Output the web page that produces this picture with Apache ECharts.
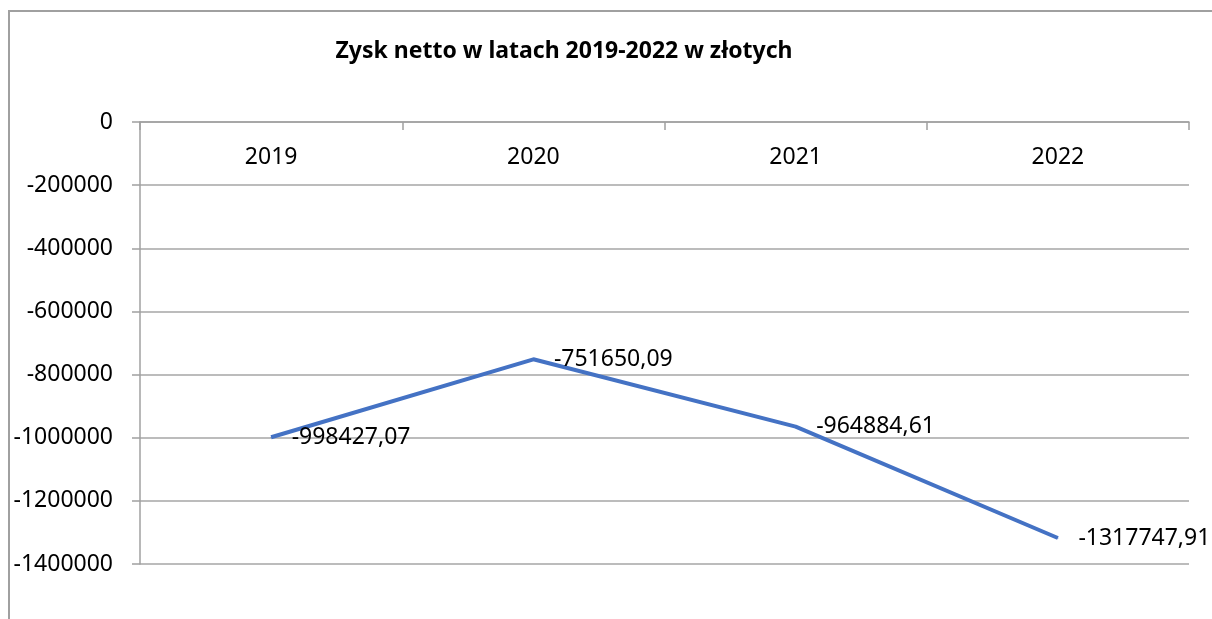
<!DOCTYPE html>
<html>
<head>
<meta charset="utf-8">
<script src="https://cdn.jsdelivr.net/npm/echarts@6/dist/echarts.min.js"></script>
<style>
  html, body { margin: 0; padding: 0; background: #fff; }
  #chart { width: 1212px; height: 619px; }
</style>
</head>
<body>
<div id="chart"></div>
<script>
const titleText = 'Zysk netto w latach 2019-2022 w złotych'
const years = ['2019', '2020', '2021', '2022']
const zyskNetto = [-998427.07, -751650.09, -964884.61, -1317747.91]
const yMin = -1400000
const yMax = 0
const yStep = 200000

const chart = echarts.init(document.getElementById('chart'))
const font = '"Noto Sans", sans-serif'

chart.setOption({
  backgroundColor: '#fff',
  animation: false,
  textStyle: { fontFamily: font },
  graphic: [
    {
      type: 'rect',
      shape: { x: 9, y: 11, width: 1400, height: 1000 },
      style: { fill: 'none', stroke: '#a0a0a0', lineWidth: 2 },
      silent: true
    },
    {
      type: 'text',
      x: 564,
      y: 51,
      style: {
        text: titleText,
        fontFamily: font,
        fontWeight: 'bold',
        fontSize: 23,
        fill: '#000',
        align: 'center',
        verticalAlign: 'middle'
      }
    }
  ],
  grid: { left: 140, right: 23, top: 122, bottom: 55 },
  xAxis: {
    type: 'category',
    position: 'top',
    data: years,
    boundaryGap: true,
    axisLine: { show: true, lineStyle: { color: '#a0a0a0', width: 1.5 } },
    axisTick: { show: true, inside: true, length: 8, lineStyle: { color: '#a0a0a0', width: 1.5 } },
    axisLabel: { inside: true, margin: 24, color: '#000', fontSize: 23, fontFamily: font },
    splitLine: { show: false }
  },
  yAxis: {
    type: 'value',
    min: yMin,
    max: yMax,
    interval: yStep,
    axisLine: { show: true, lineStyle: { color: '#a0a0a0', width: 1.5 } },
    axisTick: { show: true, length: 8, lineStyle: { color: '#a0a0a0', width: 1.5 } },
    axisLabel: { margin: 27, color: '#000', fontSize: 23, fontFamily: font, formatter: v => String(v) },
    splitLine: { show: true, lineStyle: { color: '#a6a6a6', width: 1.5 } }
  },
  series: [{
    name: 'Zysk netto',
    type: 'line',
    data: zyskNetto,
    symbol: 'circle',
    symbolSize: 1,
    showSymbol: true,
    itemStyle: { color: '#4472C4' },
    lineStyle: { color: '#4472C4', width: 4 },
    label: {
      show: true,
      position: 'right',
      distance: 20,
      color: '#000',
      fontSize: 23,
      fontFamily: font,
      formatter: p => p.value.toFixed(2).replace('.', ',')
    }
  }]
})
</script>
</body>
</html>
